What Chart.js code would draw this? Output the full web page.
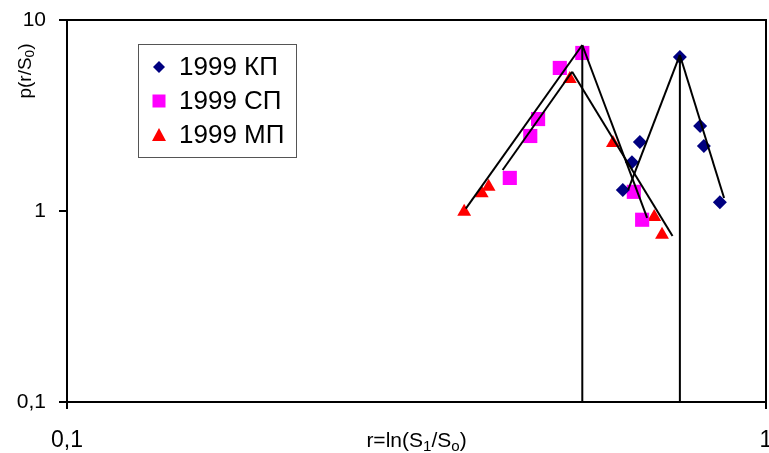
<!DOCTYPE html>
<html>
<head>
<meta charset="utf-8">
<script src="https://cdn.jsdelivr.net/npm/chart.js@4/dist/chart.umd.min.js"></script>
<style>
  html, body { margin: 0; padding: 0; background: #fff; }
  #wrap { width: 769px; height: 453px; }
</style>
</head>
<body>
<div id="wrap"><canvas id="chart" width="769" height="453"></canvas></div>
<script>
// series
const kpX = [0.624, 0.643, 0.660, 0.753, 0.805, 0.815, 0.859];
const kpY = [1.29, 1.80, 2.30, 6.40, 2.79, 2.19, 1.11];
const spX = [0.430, 0.460, 0.472, 0.507, 0.546, 0.647, 0.665];
const spY = [1.49, 2.47, 3.03, 5.61, 6.72, 1.26, 0.90];
const mpX = [0.370, 0.392, 0.401, 0.524, 0.604, 0.692, 0.710];
const mpY = [0.99, 1.24, 1.34, 4.91, 2.27, 0.93, 0.75];

// trend segments drawn over the points
const trendA = [[0.372, 1.03], [0.546, 7.40]];
const trendB = [[0.546, 7.40], [0.676, 0.92]];
const trendC = [[0.546, 7.40], [0.546, 0.1]];
const trendD = [[0.420, 1.64], [0.528, 5.36]];
const trendE = [[0.528, 5.36], [0.735, 0.74]];
const trendF = [[0.635, 1.29], [0.753, 6.56]];
const trendG = [[0.753, 6.56], [0.871, 1.17]];
const trendH = [[0.753, 6.56], [0.753, 0.1]];

const seriesNames = ['1999 КП', '1999 СП', '1999 МП'];
const xTicks = [0.1, 1];
const yTicks = [0.1, 1, 10];

const FONT = "'Liberation Sans', Arial, sans-serif";
const toPts = (xs, ys) => xs.map((x, i) => ({ x: x, y: ys[i] }));
const seg = s => s.map(p => ({ x: p[0], y: p[1] }));
const fmt = v => String(v).replace('.', ',');

function markerSet(label, data, color, style, r) {
    return {
        label: label,
        data: data,
        showLine: false,
        pointStyle: style,
        pointRadius: r,
        pointHoverRadius: r,
        pointBackgroundColor: color,
        pointBorderColor: color,
        pointBorderWidth: 0,
        order: 2
    };
}

function lineSet(s) {
    return {
        data: seg(s),
        showLine: true,
        borderColor: '#000',
        borderWidth: 2,
        pointRadius: 0,
        fill: false,
        order: 1
    };
}

// draw text with subscript parts
function drawParts(ctx, parts, x, y, size) {
    let total = 0;
    parts.forEach(p => {
        ctx.font = (p.sub ? size * 0.72 : size) + 'px ' + FONT;
        p.w = ctx.measureText(p.t).width;
        total += p.w;
    });
    let cx = x - total / 2;
    ctx.textBaseline = 'alphabetic';
    ctx.textAlign = 'left';
    parts.forEach(p => {
        ctx.font = (p.sub ? size * 0.72 : size) + 'px ' + FONT;
        ctx.fillText(p.t, cx, y + (p.sub ? size * 0.18 : 0));
        cx += p.w;
    });
}

function legendMarker(ctx, style, x, y, color) {
    ctx.fillStyle = color;
    ctx.beginPath();
    if (style === 'rectRot') {
        ctx.moveTo(x, y - 6); ctx.lineTo(x + 6, y); ctx.lineTo(x, y + 6); ctx.lineTo(x - 6, y);
    } else if (style === 'rect') {
        ctx.rect(x - 6.5, y - 6.5, 13, 13);
    } else {
        ctx.moveTo(x, y - 7); ctx.lineTo(x + 7, y + 6); ctx.lineTo(x - 7, y + 6);
    }
    ctx.closePath();
    ctx.fill();
}

const overlay = {
    id: 'overlay',
    afterDraw(chart) {
        const ctx = chart.ctx;
        const a = chart.chartArea;
        ctx.save();
        // frame
        ctx.strokeStyle = '#000';
        ctx.lineWidth = 2;
        ctx.strokeRect(a.left, a.top, a.right - a.left, a.bottom - a.top);

        // legend box
        ctx.lineWidth = 1;
        ctx.strokeStyle = '#555';
        ctx.fillStyle = '#fff';
        ctx.fillRect(138.5, 44.5, 158, 113);
        ctx.strokeRect(138.5, 44.5, 158, 113);
        const styles = ['rectRot', 'rect', 'triangle'];
        const colors = ['#000080', '#FF00FF', '#FF0000'];
        const rows = [67, 101, 135];
        seriesNames.forEach((n, i) => {
            legendMarker(ctx, styles[i], 159, rows[i], colors[i]);
            ctx.fillStyle = '#000';
            ctx.font = '26px ' + FONT;
            ctx.textAlign = 'left';
            ctx.textBaseline = 'middle';
            ctx.fillText(n, 179, rows[i] + 1);
        });

        // axis titles
        ctx.fillStyle = '#000';
        drawParts(ctx, [{ t: 'r=ln(S' }, { t: '1', sub: true }, { t: '/S' }, { t: 'o', sub: true }, { t: ')' }],
            (a.left + a.right) / 2, 447, 21);
        ctx.translate(31, 71);
        ctx.rotate(-Math.PI / 2);
        drawParts(ctx, [{ t: 'p(r/S' }, { t: '0', sub: true }, { t: ')' }], 0, 0, 19);
        ctx.restore();
    }
};

new Chart(document.getElementById('chart'), {
    type: 'scatter',
    data: {
        datasets: [
            markerSet(seriesNames[0], toPts(kpX, kpY), '#000080', 'rectRot', 7),
            markerSet(seriesNames[1], toPts(spX, spY), '#FF00FF', 'rect', 10),
            markerSet(seriesNames[2], toPts(mpX, mpY), '#FF0000', 'triangle', 8),
            lineSet(trendA), lineSet(trendB), lineSet(trendC), lineSet(trendD),
            lineSet(trendE), lineSet(trendF), lineSet(trendG), lineSet(trendH)
        ]
    },
    plugins: [overlay],
    options: {
        responsive: false,
        animation: false,
        layout: { autoPadding: false, padding: { left: 0, top: 20, right: 3, bottom: 0 } },
        plugins: {
            legend: { display: false },
            tooltip: { enabled: false }
        },
        scales: {
            x: {
                type: 'logarithmic',
                min: 0.1,
                max: 1,
                border: { display: true, color: '#000', width: 2 },
                grid: { drawOnChartArea: false, color: '#000', lineWidth: 2, tickLength: 7 },
                ticks: {
                    color: '#000',
                    padding: 18,
                    maxRotation: 0,
                    font: { family: FONT, size: 23 },
                    callback: v => fmt(v)
                },
                afterBuildTicks: s => { s.ticks = xTicks.map(v => ({ value: v })); },
                afterFit: s => { s.height = 51; s.paddingLeft = 0; s.paddingRight = 0; }
            },
            y: {
                type: 'logarithmic',
                min: 0.1,
                max: 10,
                border: { display: true, color: '#000', width: 2 },
                grid: { drawOnChartArea: false, color: '#000', lineWidth: 2, tickLength: 8 },
                ticks: {
                    color: '#000',
                    padding: 13,
                    font: { family: FONT, size: 21 },
                    callback: v => fmt(v)
                },
                afterBuildTicks: s => { s.ticks = yTicks.map(v => ({ value: v })); },
                afterFit: s => { s.width = 67; s.paddingTop = 0; s.paddingBottom = 0; }
            }
        }
    }
});
</script>
</body>
</html>
